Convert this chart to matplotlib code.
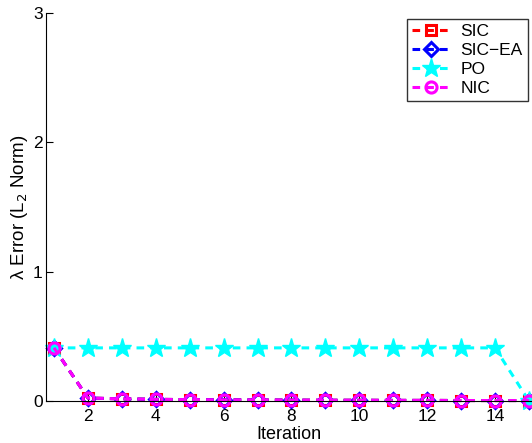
import matplotlib
matplotlib.use("Agg")
import matplotlib.pyplot as plt

plt.rcParams['font.family'] = ['Liberation Sans', 'DejaVu Sans']

iterations = list(range(1, 16))
sic = [0.41, 0.022, 0.016, 0.012, 0.010, 0.008, 0.007, 0.006, 0.005, 0.005, 0.004, 0.004, 0.003, 0.003, 0.003]
sic_ea = [0.41, 0.022, 0.016, 0.012, 0.010, 0.008, 0.007, 0.006, 0.005, 0.005, 0.004, 0.004, 0.003, 0.003, 0.003]
po = [0.41] * 14 + [0.0]
nic = [0.41, 0.022, 0.016, 0.012, 0.010, 0.008, 0.007, 0.006, 0.005, 0.005, 0.004, 0.004, 0.003, 0.003, 0.003]

x_ticks = [2, 4, 6, 8, 10, 12, 14]
y_ticks = [0, 1, 2, 3]

fig = plt.figure(figsize=(5.32, 4.43), dpi=100)
ax = fig.add_axes([0.0865, 0.095, 0.9135, 0.876])

dash = (2.5, 2.0)
common = dict(linestyle='--', dashes=dash, linewidth=2.2, markerfacecolor='none',
              markeredgewidth=2.2, clip_on=False)
ax.plot(iterations, sic, color='red', marker='s', markersize=7, label='SIC', **common)
ax.plot(iterations, sic_ea, color='blue', marker='D', markersize=7, label='SIC\u2212EA', **common)
ax.plot(iterations, po, color='cyan', linestyle='--', dashes=dash, linewidth=2.2, marker='*',
        markersize=14, markerfacecolor='cyan', markeredgecolor='cyan', label='PO',
        clip_on=False)
ax.plot(iterations, nic, color='magenta', marker='o', markersize=8, label='NIC', **common)

ax.set_xlim(0.764, 15.09)
ax.set_ylim(0, 3)
ax.set_xticks(x_ticks)
ax.set_yticks(y_ticks)
ax.tick_params(direction='in', labelsize=12.5, length=5)
ax.tick_params(axis='x', pad=6)
ax.tick_params(axis='y', pad=2.5)
ax.spines['top'].set_visible(False)
ax.spines['right'].set_visible(False)
ax.set_xlabel('Iteration', fontsize=13, labelpad=1)
ax.set_ylabel('\u03bb Error (L$_2$ Norm)', fontsize=13.5, labelpad=2)

leg = ax.legend(loc='upper right', fontsize=12.5, frameon=True, fancybox=False,
                edgecolor='black', handlelength=2.2, borderpad=0.3,
                labelspacing=0.22, handletextpad=0.6, borderaxespad=0,
                bbox_to_anchor=(1 - 4 / 486, 1 - 6 / 388))
leg.get_frame().set_linewidth(1)

fig.savefig('out.png', dpi=100)
